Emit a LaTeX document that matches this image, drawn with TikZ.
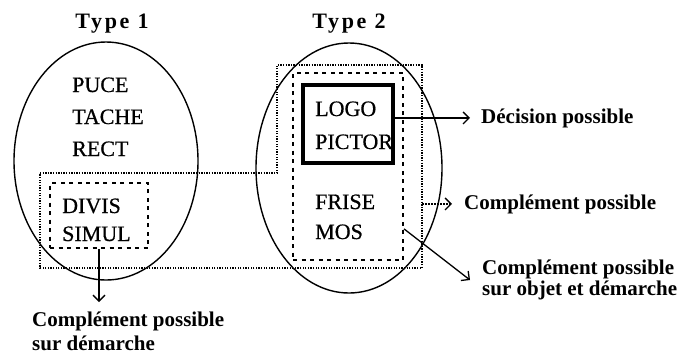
\documentclass[tikz,border=0pt]{standalone}
\usepackage{fontspec}
\setmainfont{Liberation Serif}
\newfontfamily\bodyfont[FakeBold=0.6]{Liberation Serif}
\usetikzlibrary{arrows.meta,shapes.geometric,calc}
\begin{document}
\begin{tikzpicture}[x=1pt,y=-1pt,
  body/.style={anchor=base west,inner sep=0pt,font=\bodyfont\fontsize{22}{22}\selectfont},
  lab/.style={anchor=base west,inner sep=0pt,font=\fontsize{21}{21}\selectfont\bfseries},
  ttl/.style={anchor=base,inner sep=0pt,font=\fontsize{22}{22}\selectfont\bfseries\addfontfeature{LetterSpace=12}},
  oval/.style={draw,ellipse,line width=1.4pt,inner sep=0pt},
  solidbox/.style={draw,rectangle,line width=3.5pt,inner sep=0pt},
  dashbox/.style={draw,rectangle,line width=2pt,dash pattern=on 4pt off 4.5pt,inner sep=0pt},
  dotline/.style={line width=2.2pt,dash pattern=on 1.3pt off 1.3pt},
  arr/.style={-{Straight Barb[length=6pt,width=12pt]},line width=1.3pt}]
\useasboundingbox (0,0) rectangle (684,357);

% titles
\node[ttl] (t1) at (112,28) {Type 1};
\node[ttl] (t2) at (349,28) {Type 2};

% ellipses
\node[oval,minimum width=184pt,minimum height=238pt] (e1) at (106,161) {};
\node[oval,minimum width=186pt,minimum height=250pt] (e2) at (349,168) {};

% outer dotted region
\coordinate (oR) at (422,65);
\draw[dotline] (40,173) -- (277,173) -- (277,65) -- (oR) -- (422,268) -- (40,268) -- cycle;

% boxes
\node[dashbox,minimum width=110pt,minimum height=187pt] (t2box) at (348,166.5) {};
\node[solidbox,minimum width=90pt,minimum height=78pt] (logo) at (348,124) {};
\node[dashbox,minimum width=98pt,minimum height=65pt] (divbox) at (99,215.5) {};

% texts type 1
\node[body] (puce) at (72,92) {PUCE};
\node[body] (tache) at (72,124) {TACHE};
\node[body] (rect) at (72,156) {RECT};
\node[body] (divis) at (62,213) {DIVIS};
\node[body] (simul) at (62,241) {SIMUL};

% texts type 2
\node[body] (logot) at (315,116) {LOGO};
\node[body] (pictor) at (315,149) {PICTOR};
\node[body] (frise) at (315,209) {FRISE};
\node[body] (mos) at (315,239) {MOS};

% labels
\node[lab] (dec) at (481,123) {Décision possible};
\node[lab] (comp1) at (464,209) {Complément possible};
\node[lab] (comp2) at (482,274) {Complément possible};
\node[lab] (comp2b) at (482,295) {sur objet et démarche};
\node[lab] (comp3) at (32,326) {Complément possible};
\node[lab] (comp3b) at (32,350) {sur démarche};

% arrows
\draw[arr] (logo.east |- dec.west) -- ([xshift=-11pt]dec.west);
\draw[arr,dash pattern=on 1.5pt off 1.5pt] (oR |- comp1.west) -- ([xshift=-12pt]comp1.west);
\coordinate (tip3) at (470,280);
\draw[arr] ($(t2box.south east)!0.17!(t2box.north east)$) -- (tip3);
\coordinate (tip4) at (99,302);
\draw[arr] (divbox.south) -- (tip4);
\end{tikzpicture}
\end{document}
